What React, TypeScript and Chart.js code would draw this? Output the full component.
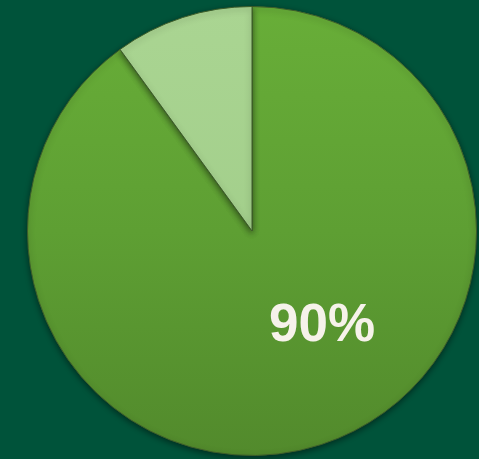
import React, { useEffect, useRef } from "react";
import { Chart, registerables } from "chart.js";

Chart.register(...registerables);

const categories = ["Main", "Other"];
const values = [90, 10];
const labelText = "90%";

const labelPlugin = {
  id: "pctLabel",
  afterDatasetsDraw(chart: any) {
    const meta = chart.getDatasetMeta(0);
    const arc = meta.data[0];
    if (!arc) return;
    const { x, y, outerRadius } = arc.getProps(["x", "y", "outerRadius"], true);
    const ctx = chart.ctx;
    ctx.save();
    ctx.font = "bold 53px 'Liberation Sans', Arial, sans-serif";
    ctx.fillStyle = "#F6F2EA";
    ctx.textAlign = "center";
    ctx.textBaseline = "middle";
    ctx.fillText(labelText, x + outerRadius * 0.312, y + outerRadius * 0.425);
    ctx.restore();
  },
};

const shadowPlugin = {
  id: "pieShadow",
  beforeDatasetsDraw(chart: any) {
    const ctx = chart.ctx;
    ctx.save();
    ctx.shadowColor = "rgba(0,0,0,0.45)";
    ctx.shadowBlur = 6;
    ctx.shadowOffsetY = 2;
  },
  afterDatasetsDraw(chart: any) {
    chart.ctx.restore();
  },
};

export default function App() {
  const ref = useRef<HTMLCanvasElement>(null);
  useEffect(() => {
    document.body.style.margin = "0";
    const canvas = ref.current!;
    const chart = new Chart(canvas, {
      type: "pie",
      data: {
        labels: categories,
        datasets: [
          {
            data: values,
            backgroundColor: (c: any) => {
              const area = c.chart.chartArea;
              if (!area) return c.dataIndex === 0 ? "#5F9F34" : "#A5D08E";
              const g = c.chart.ctx.createLinearGradient(0, area.top, 0, area.bottom);
              if (c.dataIndex === 0) {
                g.addColorStop(0, "#68AE38");
                g.addColorStop(0.5, "#5E9F33");
                g.addColorStop(1, "#528A2C");
              } else {
                g.addColorStop(0, "#AAD592");
                g.addColorStop(1, "#9CC985");
              }
              return g;
            },
            borderColor: "#3E5E2A",
            borderWidth: 1,
          },
        ],
      },
      options: {
        animation: false,
        responsive: false,
        maintainAspectRatio: false,
        layout: { padding: { left: 27, right: 2, top: 6, bottom: 3 } },
        plugins: {
          legend: { display: false },
          tooltip: { enabled: false },
        },
      },
      plugins: [shadowPlugin, labelPlugin],
    });
    return () => chart.destroy();
  }, []);
  return (
    <div style={{ width: 479, height: 459, background: "#00533A", position: "relative" }}>
      <canvas ref={ref} width={479} height={459} style={{ display: "block" }} />
    </div>
  );
}
